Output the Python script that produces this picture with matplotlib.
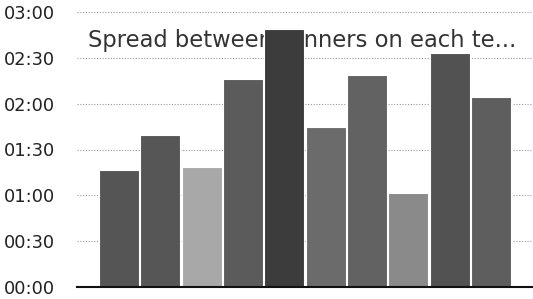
import numpy as np
from matplotlib import pyplot as plt
from matplotlib.ticker import FuncFormatter, MultipleLocator

# spread per team, in minutes
teams = ['T1', 'T2', 'T3', 'T4', 'T5', 'T6', 'T7', 'T8', 'T9', 'T10']
spread_min = [76.5, 99.5, 78.5, 136, 169, 105, 139, 61.5, 153, 124.5]
bar_colors = ['#555555', '#565656', '#a8a8a8', '#5b5b5b', '#3c3c3c',
              '#6b6b6b', '#626262', '#8a8a8a', '#525252', '#5e5e5e']
titulo = 'Spread between runners on each te...'


def hhmm(v, pos):
    v = int(round(v))
    return '%02d:%02d' % (v // 60, v % 60)


fig = plt.figure(figsize=(5.33, 2.99), dpi=100)
ax = fig.add_axes([77 / 533, 12 / 299, 456 / 533, 275 / 299])

x = np.arange(len(teams))
ax.bar(x, spread_min, width=0.97, color=bar_colors, edgecolor='white',
       linewidth=0.8, zorder=2)

ax.set_xlim(-1.02, 10.02)
ax.set_ylim(0, 180)
ax.yaxis.set_major_locator(MultipleLocator(30))
ax.yaxis.set_major_formatter(FuncFormatter(hhmm))
ax.set_xticks([])
ax.tick_params(axis='y', length=0, pad=16, labelsize=12.8, labelcolor='#222222')

ax.grid(axis='y', color='#999999', linestyle=(0, (1, 1.5)), linewidth=0.8, zorder=0)
for s in ['top', 'right', 'left']:
    ax.spines[s].set_visible(False)
ax.spines['bottom'].set_color('#111111')
ax.spines['bottom'].set_linewidth(1.5)
ax.spines['bottom'].set_zorder(3)

ax.text(0.024, 0.873, titulo, transform=ax.transAxes, fontsize=16.3,
        color='#333333', va='baseline', ha='left', zorder=1)

plt.savefig('out.png', dpi=100)
